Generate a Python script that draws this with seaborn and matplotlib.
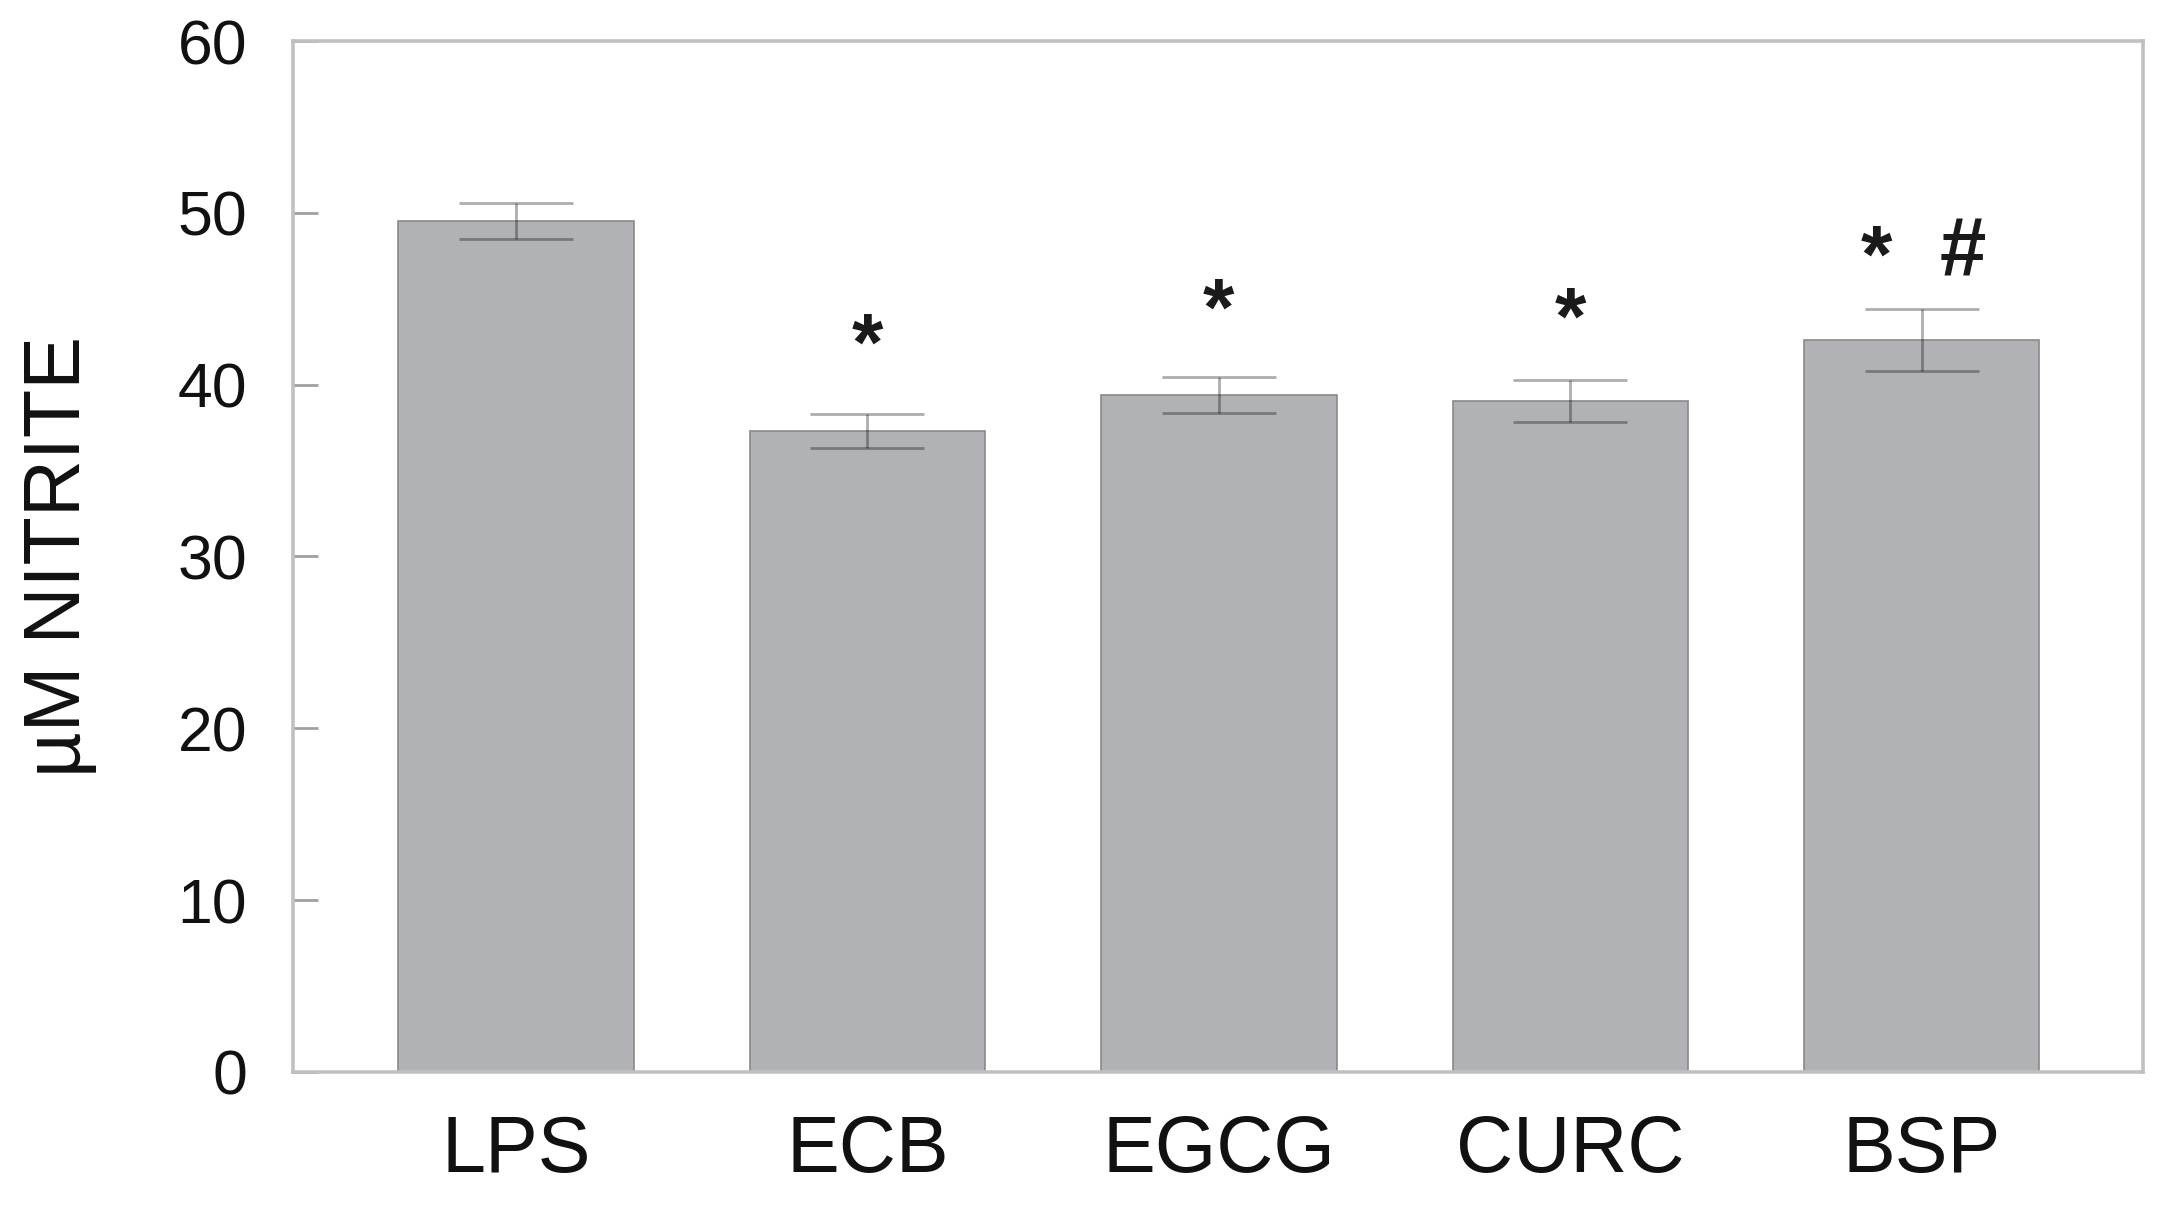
import matplotlib
matplotlib.use("Agg")
import matplotlib.pyplot as plt
import seaborn as sns
import pandas as pd

categories = ["LPS", "ECB", "EGCG", "CURC", "BSP"]
nitrite = [49.5, 37.3, 39.4, 39.05, 42.6]
sem = [1.05, 1.0, 1.05, 1.2, 1.8]
# significance marks: (bar index, symbol, y value, x offset in category units)
mark_index = [1, 2, 3, 4, 4]
mark_text = ["*", "*", "*", "*", "#"]
mark_y = [42.1, 44.15, 43.6, 47.2, 47.6]
mark_dx = [0.0, 0.0, 0.0, -0.128, 0.117]

sns.set_theme(style="white")
plt.rcParams['font.family'] = ['Liberation Sans', 'DejaVu Sans']

df = pd.DataFrame({"group": categories, "nitrite": nitrite})

fig = plt.figure(figsize=(21.68, 12.14), dpi=100)
ax = fig.add_axes([0.1351, 0.1170, 0.8534, 0.8492])

sns.barplot(data=df, x="group", y="nitrite", order=categories, color="#b1b2b6",
            edgecolor="#8a8a8a", linewidth=1.2, width=0.67, saturation=1,
            errorbar=None, ax=ax)

ax.errorbar(range(len(categories)), nitrite, yerr=sem, fmt="none",
            ecolor=(0, 0, 0, 0.32), elinewidth=2.0, capsize=41, capthick=2.0)

for i, txt, yy, dx in zip(mark_index, mark_text, mark_y, mark_dx):
    fs = 58 if txt == "*" else 60
    ax.text(i + dx, yy, txt, ha="center", va="center", fontsize=fs,
            fontweight="bold", color="#1a1a1a")

ax.set_ylim(0, 60)
ax.set_xlim(-0.635, 4.63)
ax.set_yticks([0, 10, 20, 30, 40, 50, 60])
ax.set_xlabel("")
ax.set_ylabel("µM NITRITE", fontsize=57, color="#111111", labelpad=58)

for s in ax.spines.values():
    s.set_visible(True)
    s.set_color("#c0c0c0")
    s.set_linewidth(2.6)

ax.tick_params(axis="y", direction="in", length=18, width=2, color="#a0a0a0",
               labelsize=45, pad=33, labelcolor="#111111", left=True)
ax.tick_params(axis="x", length=0, labelsize=57, pad=30, labelcolor="#111111")

fig.savefig("out.png", dpi=100)
